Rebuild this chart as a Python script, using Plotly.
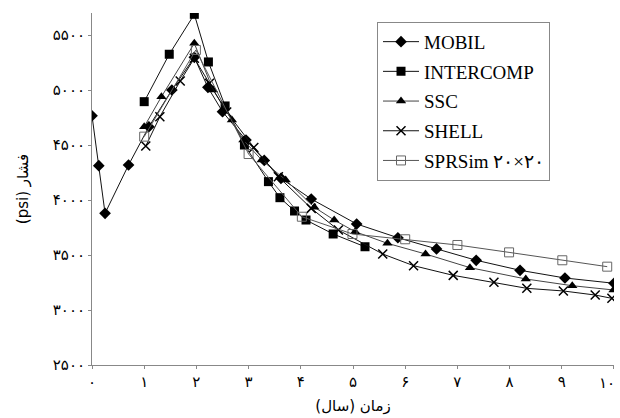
import plotly.graph_objects as go

# ---- data ----
mobil_x = [0, 0.13, 0.25, 0.70, 1.09, 1.53, 1.96, 2.22, 2.50, 2.95, 3.30, 3.62, 4.20, 5.07, 5.86, 6.60, 7.36, 8.20, 9.06, 10.0]
mobil_y = [4766, 4312, 3879, 4318, 4666, 5000, 5297, 5024, 4803, 4545, 4360, 4197, 4009, 3782, 3657, 3555, 3452, 3361, 3291, 3243]

inter_x = [1.00, 1.48, 1.96, 2.23, 2.55, 2.92, 3.38, 3.60, 3.88, 4.10, 4.62, 5.23]
inter_y = [4894, 5325, 5688, 5255, 4855, 4500, 4167, 4021, 3900, 3818, 3691, 3575]

ssc_x = [1.00, 1.33, 1.96, 2.32, 2.68, 2.90, 3.25, 3.71, 4.26, 4.64, 5.04, 5.66, 6.39, 7.24, 8.31, 9.20, 9.99]
ssc_y = [4666, 4939, 5424, 5000, 4727, 4545, 4364, 4182, 3934, 3818, 3712, 3606, 3509, 3385, 3282, 3221, 3182]

shell_x = [1.03, 1.30, 1.69, 1.96, 2.25, 2.58, 3.10, 3.57, 4.20, 4.72, 5.57, 6.16, 6.92, 7.70, 8.33, 9.03, 9.64, 9.96]
shell_y = [4491, 4757, 5082, 5288, 5061, 4800, 4478, 4212, 3924, 3727, 3509, 3403, 3315, 3252, 3197, 3173, 3136, 3106]

sprs_x = [1.00, 1.99, 3.00, 4.02, 4.99, 6.00, 7.00, 7.99, 9.01, 9.87]
sprs_y = [4576, 5364, 4418, 3848, 3691, 3643, 3591, 3524, 3452, 3394]

x_tickvals = [0, 1, 2, 3, 4, 5, 6, 7, 8, 9, 10]
x_ticktext = ["۰", "۱", "۲", "۳", "۴", "۵", "۶", "۷", "۸", "۹", "۱۰"]
y_tickvals = [2500, 3000, 3500, 4000, 4500, 5000, 5500]
y_ticktext = ["۲۵۰۰", "۳۰۰۰", "۳۵۰۰", "۴۰۰۰", "۴۵۰۰", "۵۰۰۰", "۵۵۰۰"]

names = ["MOBIL", "INTERCOMP", "SSC", "SHELL", "SPRSim ۲۰×۲۰"]
x_title = "(سال) زمان"
y_title = "(psi) فشار"

fig = go.Figure()

def add(x, y, name, symbol, size, color, lcolor, lw=0, group=""):
    fig.add_trace(go.Scatter(
        x=x, y=y, name=name, mode="lines+markers", legendgroup=group,
        line=dict(color=lcolor, width=1),
        marker=dict(symbol=symbol, size=size, color=color,
                    line=dict(color=color, width=lw)),
    ))

add(mobil_x, mobil_y, names[0], "diamond", 9, "black", "#111", 0, "a")
add(inter_x, inter_y, names[1], "square", 9, "black", "#111", 0, "b")
add(ssc_x, ssc_y, names[2], "triangle-up", 9, "black", "#444", 0, "c")
add(shell_x, shell_y, names[3], "x-thin", 9, "black", "#111", 1.5, "d")
add(sprs_x, sprs_y, names[4], "square-open", 9, "#666", "#555", 1, "e")

serif = "Liberation Serif, Times New Roman, serif"
arab = "DejaVu Sans, sans-serif"

# the last tick label sits at the right edge of the canvas: draw it as an
# annotation anchored on its right side so it stays inside the picture
shown_ticktext = x_ticktext[:-1] + [""]
fig.add_annotation(
    x=x_tickvals[-1], xref="x", y=0, yref="paper",
    text=x_ticktext[-1], showarrow=False,
    xanchor="right", yanchor="top", xshift=3, yshift=-7,
    font=dict(family=arab, size=15, color="black"),
)

fig.update_layout(
    width=620, height=418,
    margin=dict(l=92, r=6, t=13, b=53, autoexpand=False),
    paper_bgcolor="white", plot_bgcolor="white",
    font=dict(family=arab, size=15, color="black"),
    showlegend=True,
    legend=dict(
        x=0.546, y=0.975, xanchor="left", yanchor="top",
        bordercolor="#888", borderwidth=1, bgcolor="white",
        font=dict(family=serif, size=19, color="black"),
        tracegroupgap=2, traceorder="grouped", itemwidth=36,
    ),
    xaxis=dict(
        range=[-0.0001, 10.0001], tickvals=x_tickvals, ticktext=shown_ticktext,
        showgrid=False, zeroline=False, showline=True, linecolor="#888", linewidth=1,
        ticks="outside", ticklen=3, tickcolor="#888",
        tickfont=dict(family=arab, size=15),
        title=dict(text=x_title, font=dict(family=arab, size=15), standoff=10),
    ),
    yaxis=dict(
        range=[2500, 5700], tickvals=y_tickvals, ticktext=y_ticktext,
        showgrid=False, zeroline=False, showline=True, linecolor="#888", linewidth=1,
        ticks="outside", ticklen=3, tickcolor="#888",
        tickfont=dict(family=arab, size=15),
        title=dict(text=y_title, font=dict(family=arab, size=15), standoff=20),
    ),
)

fig.write_html("out.html")
